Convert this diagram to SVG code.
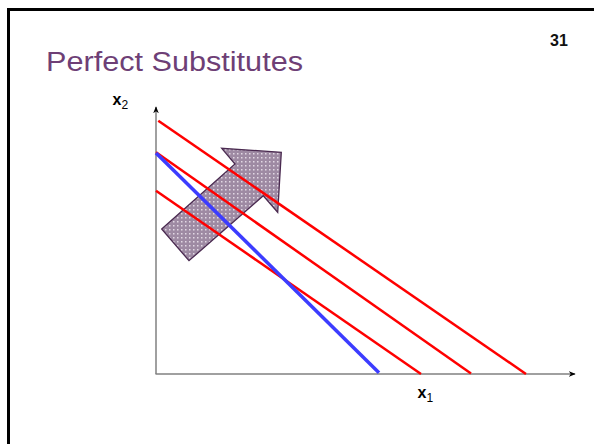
<svg xmlns="http://www.w3.org/2000/svg" width="594" height="444" viewBox="0 0 594 444">
<defs>
<style>
.title{font-family:"Liberation Sans",Arial,sans-serif;font-size:27px;fill:#6E3F76;}
.num{font-family:"Liberation Sans",Arial,sans-serif;font-size:16px;font-weight:bold;fill:#111;}
.lab{font-family:"Liberation Sans",Arial,sans-serif;font-size:16px;font-weight:bold;fill:#000;}
.sub{font-size:12px;font-weight:normal;}
.axis{stroke:#808080;stroke-width:1.5;fill:none;}
.red{stroke:#FF0000;stroke-width:2.5;fill:none;stroke-linecap:butt;}
.blue{stroke:#3C3CFF;stroke-width:3.5;fill:none;}
</style>
<marker id="ah" viewBox="0 0 10 10" refX="9" refY="5" markerWidth="7" markerHeight="7" markerUnits="userSpaceOnUse" orient="auto">
<path d="M0,1 L10,5 L0,9 L3,5 Z" fill="#000"/>
</marker>
<pattern id="dots" width="4" height="4" patternUnits="userSpaceOnUse">
<rect width="4" height="4" fill="#9E8AA3"/>
<rect x="1" y="1" width="1.5" height="1.5" fill="#E2D8E4"/>
</pattern>
</defs>
<rect x="8.5" y="9.5" width="620" height="480" fill="none" stroke="#000" stroke-width="3"/>
<text class="title" x="46" y="71" textLength="257" lengthAdjust="spacingAndGlyphs">Perfect Substitutes</text>
<text class="num" x="550" y="45.5">31</text>
<g id="x2-label"><text class="lab" x="112.5" y="104.5">x<tspan class="sub" dy="4">2</tspan></text></g>
<g id="x1-label"><text class="lab" x="417.5" y="398">x<tspan class="sub" dy="4">1</tspan></text></g>
<g id="arrow">
<polygon points="161.7,229 235,164 221.7,148.3 281.3,152.3 277.7,212.3 263.3,195.7 189,260.7" fill="url(#dots)" stroke="#4A2A50" stroke-width="1.3"/>
</g>
<g id="connectors">
<line id="y-axis" class="axis" x1="156" y1="374" x2="156" y2="107" marker-end="url(#ah)"/>
<line id="x-axis" class="axis" x1="155.5" y1="374" x2="575" y2="374" marker-end="url(#ah)"/>
<line class="red" x1="158.3" y1="120.7" x2="526" y2="374"/>
<line class="red" x1="156" y1="152.3" x2="471" y2="373.5"/>
<line class="red" x1="156" y1="190.7" x2="421" y2="374"/>
<line class="blue" x1="156" y1="153" x2="379" y2="372.7"/>
</g>
</svg>
